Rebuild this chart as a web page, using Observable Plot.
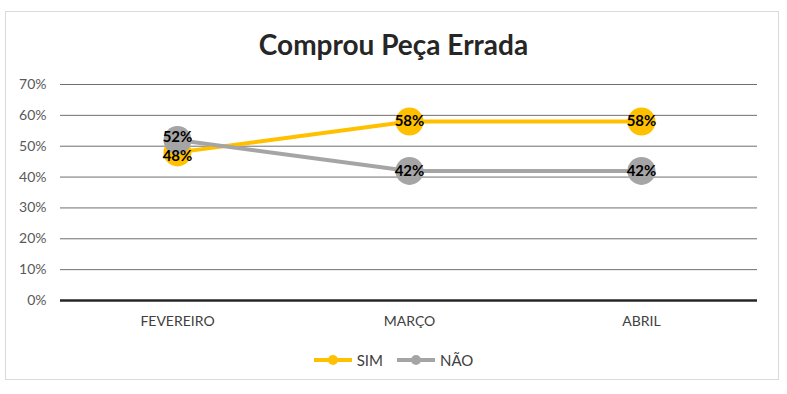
<!DOCTYPE html>
<html>
<head>
<meta charset="utf-8">
<script src="https://cdn.jsdelivr.net/npm/d3@7"></script>
<script src="https://cdn.jsdelivr.net/npm/@observablehq/plot@0.6"></script>
<style>
  html, body { margin: 0; padding: 0; background: #fff; }
  #wrap { position: relative; width: 787px; height: 394px; font-family: Lato, "Open Sans", sans-serif; }
  #frame { position: absolute; left: 5px; top: 11px; width: 774px; height: 369px; border: 1px solid #d9d9d9; box-sizing: border-box; pointer-events: none; }
  #title { position: absolute; left: 0; top: 28px; width: 787px; text-align: center; font-size: 28px; font-weight: 700; color: #262626; line-height: 32px; }
  #chart { position: absolute; left: 0; top: 0; }
  #legend { position: absolute; left: 0; top: 351px; width: 787px; display: flex; justify-content: center; gap: 14px; font-size: 15px; color: #404040; }
  .item { display: flex; align-items: center; gap: 5px; }
</style>
</head>
<body>
<div id="wrap">
  <div id="frame"></div>
  <div id="chart"></div>
  <div id="title">Comprou Peça Errada</div>
  <div id="legend"></div>
</div>
<script>
const months = ["FEVEREIRO", "MARÇO", "ABRIL"];
const seriesNames = ["SIM", "NÃO"];
const simValues = [0.48, 0.58, 0.58];
const naoValues = [0.52, 0.42, 0.42];
const seriesColors = ["#FFC000", "#A5A5A5"];
const yTicks = [0, 0.1, 0.2, 0.3, 0.4, 0.5, 0.6, 0.7];

const data = [];
months.forEach((m, i) => data.push({month: m, series: seriesNames[0], value: simValues[i]}));
months.forEach((m, i) => data.push({month: m, series: seriesNames[1], value: naoValues[i]}));

const pct = d => Math.round(d.value * 100) + "%";
const labelOpts = {x: "month", y: "value", text: pct, fill: "#000", fontWeight: "bold", fontSize: 15};
const isFirst = d => d.month === months[0];

const plot = Plot.plot({
  width: 787,
  height: 340,
  marginLeft: 60,
  marginRight: 30,
  marginTop: 84,
  marginBottom: 40,
  style: {fontFamily: "Lato, 'Open Sans', sans-serif", fontSize: "14px", color: "#595959", background: "transparent"},
  x: {domain: months, padding: 0.5, label: null},
  y: {domain: [0, 0.7], label: null},
  color: {domain: seriesNames, range: seriesColors},
  marks: [
    Plot.ruleY(yTicks.filter(t => t > 0), {stroke: "#6f6f6f", strokeWidth: 1}),
    Plot.axisY({ticks: yTicks, tickFormat: d => Math.round(d * 100) + "%", tickSize: 0, tickPadding: 14, label: null, fill: "#595959", fontSize: 14}),
    Plot.axisX({tickSize: 0, tickPadding: 16, label: null, fill: "#404040", fontSize: 14}),
    Plot.ruleY([0], {stroke: "#262626", strokeWidth: 2.5}),
    Plot.line(data, {x: "month", y: "value", z: "series", stroke: "series", strokeWidth: 4}),
    Plot.dot(data.filter(d => d.series === "SIM"), {x: "month", y: "value", r: 14, fill: "series", stroke: null}),
    Plot.dot(data.filter(d => d.series === "NÃO"), {x: "month", y: "value", r: 14, fill: "series", stroke: null}),
    Plot.text(data.filter(d => !isFirst(d)), labelOpts),
    Plot.text(data.filter(d => isFirst(d) && d.series === "SIM"), {...labelOpts, dy: 4}),
    Plot.text(data.filter(d => isFirst(d) && d.series === "NÃO"), {...labelOpts, dy: -3})
  ]
});
document.getElementById("chart").appendChild(plot);

const legend = document.getElementById("legend");
seriesNames.forEach((name, i) => {
  const item = document.createElement("div");
  item.className = "item";
  item.innerHTML = `<svg width="38" height="12"><line x1="0" x2="38" y1="6" y2="6" stroke="${seriesColors[i]}" stroke-width="4"/><circle cx="19" cy="6" r="5" fill="${seriesColors[i]}"/></svg><span>${name}</span>`;
  legend.appendChild(item);
});
</script>
</body>
</html>
